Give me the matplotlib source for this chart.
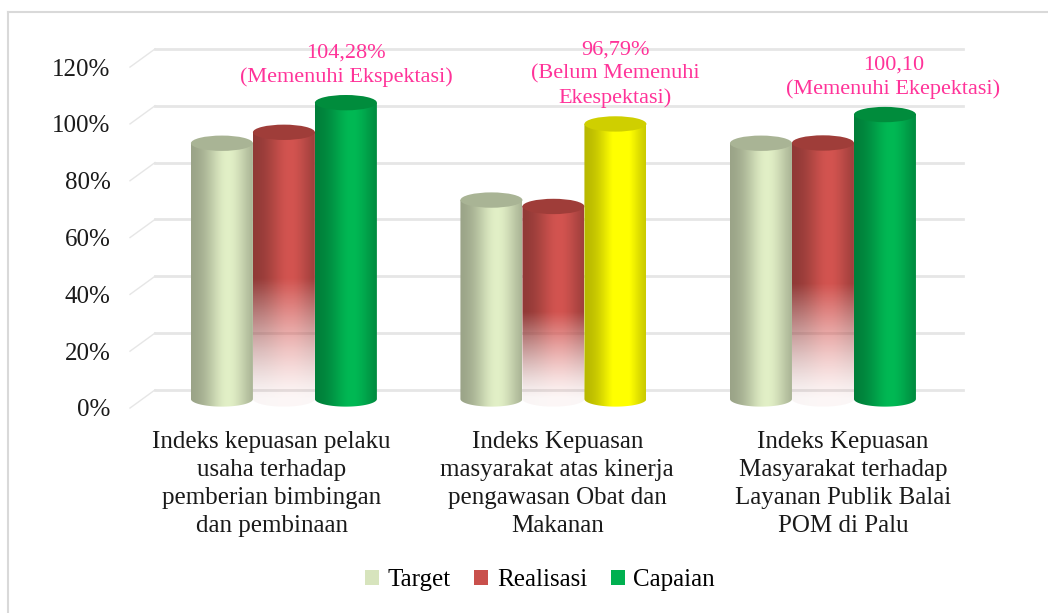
import numpy as np
import matplotlib
matplotlib.use("Agg")
import matplotlib.pyplot as plt
from matplotlib.patches import Polygon, Ellipse, Patch
from matplotlib.lines import Line2D
from matplotlib.transforms import ScaledTranslation

# data
categories = [
    "Indeks kepuasan pelaku\nusaha terhadap\npemberian bimbingan\ndan pembinaan",
    "Indeks Kepuasan\nmasyarakat atas kinerja\npengawasan Obat dan\nMakanan",
    "Indeks Kepuasan\nMasyarakat terhadap\nLayanan Publik Balai\nPOM di Palu",
]
series_names = ["Target", "Realisasi", "Capaian"]
target = [90.0, 70.0, 90.0]
realisasi = [93.85, 67.75, 90.09]
capaian = [104.28, 96.79, 100.10]
capaian_notes = [
    "104,28%\n(Memenuhi Ekspektasi)",
    "96,79%\n(Belum Memenuhi\nEkespektasi)",
    "100,10\n(Memenuhi Ekepektasi)",
]
yticks = [0, 20, 40, 60, 80, 100, 120]

# styles
target_col = "#d7e4bd"
target_top = "#a9b495"
red_col = "#c9504c"
red_top = "#9f3d39"
green_col = "#00b050"
green_top = "#008c3c"
yellow_col = "#ffff00"
yellow_top = "#cfcf00"
pink = "#ff3399"
fontname = "Liberation Serif"

fig = plt.figure(figsize=(10.48, 6.13), dpi=100)
# y from -6 to 120 -> 2.842 px per unit, 0 sits at pixel row 399
ax = fig.add_axes((130 / 1048, 1 - 416 / 613, 835 / 1048, 358 / 613))
ax.set_xlim(-0.571, 2.527)

bar_w = 0.23
cap_b = 2.7   # half height of the cylinder ellipses, in data units


def shade_profile(n=80):
    t = np.linspace(0, 1, n)
    return 0.70 + 0.35 * np.exp(-((t - 0.6) / 0.35) ** 2)


def cylinder(xc, value, color, top_color, fade=False, z=2):
    a = bar_w / 2
    rgb = np.array(matplotlib.colors.to_rgb(color))
    prof = shade_profile()
    nrow = 200
    img = np.ones((nrow, len(prof), 4))
    img[:, :, :3] = np.clip(prof[None, :, None] * rgb[None, None, :], 0, 1)
    if fade:
        ys = np.linspace(value, -cap_b, nrow)
        frac = np.clip(ys / value, 0, 1)
        alpha = np.where(frac >= 0.45, 1.0,
                         0.05 + 0.95 * (frac / 0.45) ** 1.3)
        img[:, :, 3] = alpha[:, None]
    im = ax.imshow(img, extent=(xc - a, xc + a, -cap_b, value),
                   aspect="auto", interpolation="bilinear", zorder=z)
    t1 = np.linspace(np.pi, 2 * np.pi, 60)
    t2 = np.linspace(0, np.pi, 60)
    verts = np.concatenate([
        np.column_stack([xc + a * np.cos(t1), cap_b * np.sin(t1)]),
        np.column_stack([xc + a * np.cos(t2), value + cap_b * np.sin(t2)]),
    ])
    clip = Polygon(verts, closed=True, transform=ax.transData,
                   facecolor="none", edgecolor="none")
    ax.add_patch(clip)
    im.set_clip_path(clip)
    ax.add_patch(Ellipse((xc, value), 2 * a, 2 * cap_b, facecolor=top_color,
                         edgecolor="none", zorder=z + 0.1))


# gridlines on the back wall plus the short perspective ticks
lift = 3.2
dx = 0.093
for v in yticks:
    ax.plot([-0.571 + dx, 2.52], [v + lift, v + lift], color="#e6e6e6",
            lw=2, zorder=0.5, clip_on=False)
    ax.plot([-0.571, -0.571 + dx], [v - lift, v + lift], color="#e6e6e6",
            lw=1, zorder=0.5, clip_on=False)

offs = [-bar_w, 0.0, bar_w]
for i in range(len(categories)):
    z = 2 + i
    cylinder(i + offs[0], target[i], target_col, target_top, z=z)
    cylinder(i + offs[1], realisasi[i], red_col, red_top, fade=True, z=z + 0.3)
    ccol, ctop = (green_col, green_top) if capaian[i] >= 100 else (yellow_col, yellow_top)
    cylinder(i + offs[2], capaian[i], ccol, ctop, z=z + 0.6)
    ax.annotate(capaian_notes[i], xy=(i + offs[2], capaian[i] + cap_b),
                xytext=(6 if i == 2 else 0, 6), textcoords="offset points",
                ha="center", va="bottom", color=pink, fontsize=16,
                fontname=fontname, linespacing=1.32, zorder=10)
    ax.annotate(categories[i], xy=(i * 1.06 - 0.046, 0), xytext=(0, -23),
                textcoords="offset points", ha="center", va="top",
                color="#1a1a1a", fontsize=18, fontname=fontname,
                linespacing=1.36, annotation_clip=False)

ax.set_ylim(-6, 120)
ax.set_xticks([])
ax.set_yticks(yticks)
ax.set_yticklabels(["%d%%" % v for v in yticks], fontsize=18,
                   fontname=fontname, color="#1a1a1a")
ax.tick_params(axis="y", length=0, pad=14)
for lab in ax.get_yticklabels():
    lab.set_transform(lab.get_transform() +
                      ScaledTranslation(0, -9 / 100, fig.dpi_scale_trans))
for s in ax.spines.values():
    s.set_visible(False)
ax.patch.set_alpha(0)

handles = [Patch(facecolor=target_col), Patch(facecolor=red_col),
           Patch(facecolor=green_col)]
fig.legend(handles, series_names, loc="center", ncol=3, frameon=False,
           bbox_to_anchor=(540 / 1048, 1 - 580 / 613),
           prop={"family": fontname, "size": 18},
           handlelength=0.55, handleheight=0.55, handletextpad=0.35,
           columnspacing=0.95)

# outer chart border (only top and left edge fall inside the picture)
fig.add_artist(Line2D([8 / 1048, 8 / 1048], [0, 1 - 12 / 613],
                      color="#d9d9d9", lw=1.5, transform=fig.transFigure))
fig.add_artist(Line2D([8 / 1048, 1], [1 - 12 / 613, 1 - 12 / 613],
                      color="#d9d9d9", lw=1.5, transform=fig.transFigure))

fig.savefig("out.png", dpi=100)
